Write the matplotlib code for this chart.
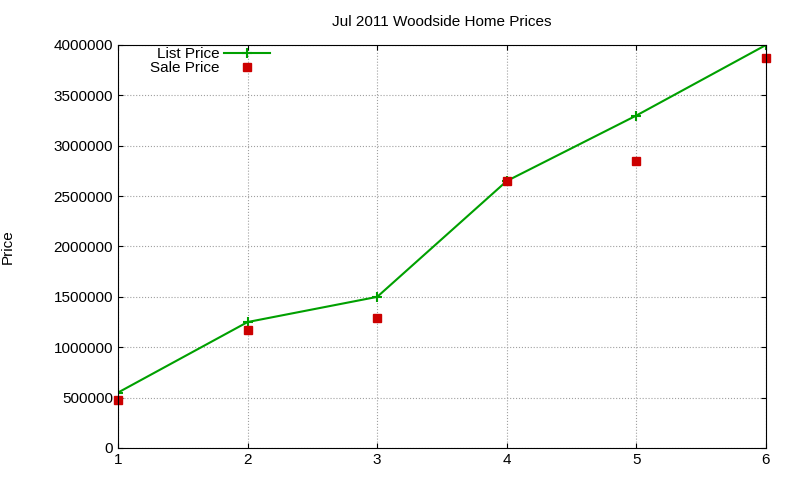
import matplotlib
matplotlib.use("Agg")
import matplotlib.pyplot as plt

houses = [1, 2, 3, 4, 5, 6]
list_price = [550000, 1250000, 1500000, 2650000, 3300000, 4000000]
sale_price = [475000, 1175000, 1290000, 2650000, 2850000, 3870000]

plt.rcParams["font.family"] = ["Liberation Sans", "DejaVu Sans"]

fig = plt.figure(figsize=(8, 4.8), dpi=100)
ax = fig.add_axes([0.1475, 0.0667, 0.81, 0.8396])

ax.plot(houses, list_price, color="#00a000", linewidth=1.5, marker="+",
        markersize=7, markeredgewidth=1.5, label="List Price")
ax.plot(houses, sale_price, color="#cc0000", linestyle="none", marker="s",
        markersize=6, label="Sale Price", clip_on=False)

ax.set_xlim(1, 6)
ax.set_ylim(0, 4000000)
ax.set_yticks(range(0, 4000001, 500000))
ax.ticklabel_format(axis="y", style="plain")
ax.grid(True, color="#a0a0a0", linestyle=":", linewidth=0.8)
ax.tick_params(direction="in", labelsize=11, top=True, right=True)
for s in ax.spines.values():
    s.set_linewidth(0.8)

ax.set_ylabel("Price", fontsize=11, labelpad=28)
ax.set_title("Jul 2011 Woodside Home Prices", fontsize=11, pad=14)

leg = ax.legend(loc="upper left", bbox_to_anchor=(0.05, 0.995), markerfirst=False,
                frameon=False, fontsize=11, handlelength=3, borderpad=0.0,
                borderaxespad=0.0, labelspacing=0.0, handletextpad=0.3)
for t in leg.get_texts():
    t.set_ha("right")

fig.savefig("out.png", dpi=100)
